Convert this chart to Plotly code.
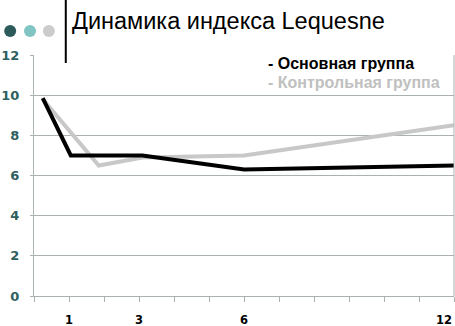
import plotly.graph_objects as go

# Data
months_main = [0.25, 1.05, 3.1, 6.0, 12.0]
values_main = [9.85, 7.0, 7.0, 6.3, 6.5]
months_ctrl = [0.25, 1.85, 3.1, 6.0, 12.0]
values_ctrl = [9.8, 6.5, 6.9, 7.0, 8.5]
x_tick_vals = [1, 3, 6, 12]
x_tick_text = ["1", "3", "6", "12"]
y_tick_vals = [0, 2, 4, 6, 8, 10, 12]
series_names = ["- Основная группа", "- Контрольная группа"]
title_text = "Динамика индекса Lequesne"

fig = go.Figure()
fig.add_trace(go.Scatter(x=months_ctrl, y=values_ctrl, mode="lines",
                         line=dict(color="#c8c8c8", width=4), name=series_names[1],
                         showlegend=False))
fig.add_trace(go.Scatter(x=months_main, y=values_main, mode="lines",
                         line=dict(color="#000000", width=4), name=series_names[0],
                         showlegend=False))

grid_col = "#a9b1b1"
fig.update_layout(
    width=455, height=326,
    margin=dict(l=31, r=1, t=55, b=30),
    paper_bgcolor="white", plot_bgcolor="white",
    xaxis=dict(range=[0, 12], tickmode="linear", tick0=0, dtick=1,
               showticklabels=False, ticks="outside", ticklen=5,
               tickcolor=grid_col, showgrid=False, zeroline=False,
               showline=True, linecolor=grid_col, linewidth=1, mirror=False),
    yaxis=dict(range=[0, 12], tickvals=y_tick_vals, ticks="outside", ticklen=3,
               tickcolor=grid_col, showgrid=True, gridcolor=grid_col, gridwidth=1,
               zeroline=False, showline=True, linecolor=grid_col, linewidth=1,
               ticklabelstandoff=8,
               tickfont=dict(family="DejaVu Sans", size=13, color="#2e5e5e",
                             weight="bold")),
)

# right border of plot area
fig.add_shape(type="line", xref="paper", yref="paper", x0=1, x1=1, y0=0, y1=1,
              line=dict(color=grid_col, width=1))

# x tick labels
for v, t in zip(x_tick_vals, x_tick_text):
    fig.add_annotation(x=v, y=-0.1, xref="x", yref="paper", text=t, showarrow=False,
                       xanchor="right" if v == 12 else "center", yanchor="middle",
                       font=dict(family="DejaVu Sans", size=11.5, color="#000000",
                                 weight="bold"))

# legend texts
lx = (265 - 31) / 423.0
fig.add_annotation(x=lx, y=(296 - 64) / 241.0, xref="paper", yref="paper",
                   text="<b>" + series_names[0] + "</b>", showarrow=False,
                   xanchor="left", yanchor="middle",
                   font=dict(family="Liberation Sans", size=16, color="#000000"))
fig.add_annotation(x=lx, y=(296 - 82) / 241.0, xref="paper", yref="paper",
                   text="<b>" + series_names[1] + "</b>", showarrow=False,
                   xanchor="left", yanchor="middle",
                   font=dict(family="Liberation Sans", size=16, color="#c0c0c0"))

# title
fig.add_annotation(x=(67 - 31) / 423.0, y=(296 - 21) / 241.0, xref="paper", yref="paper",
                   text=title_text, showarrow=False, xanchor="left", yanchor="middle",
                   font=dict(family="Liberation Sans", size=23.5, color="#000000"))

# vertical decorative line
fig.add_shape(type="line", xref="paper", yref="paper",
              x0=(63 - 31) / 423.0, x1=(63 - 31) / 423.0,
              y0=(296 - 63) / 241.0, y1=(296 + 2) / 241.0,
              line=dict(color="#000000", width=2))

# decorative circles
for cx, col in [(7, "#2d5a5a"), (27, "#80c4c4"), (46, "#cccccc")]:
    fig.add_shape(type="circle", xref="paper", yref="paper",
                  xsizemode="pixel", ysizemode="pixel",
                  xanchor=(cx - 31) / 423.0, yanchor=(296 - 31) / 241.0,
                  x0=-6, x1=6, y0=-6, y1=6,
                  fillcolor=col, line=dict(width=0))

fig.write_html("out.html", config={"displayModeBar": False},
               post_script="document.body.style.margin='0px';document.body.style.padding='0px';")
